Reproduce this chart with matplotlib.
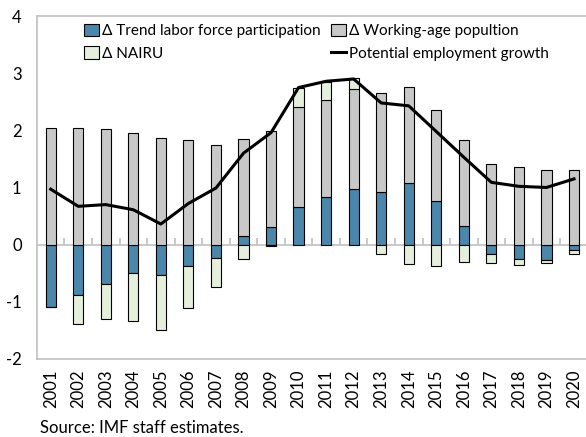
import matplotlib.pyplot as plt
import numpy as np

years = [str(y) for y in range(2001, 2021)]
trend_lfp = [-1.09, -0.88, -0.69, -0.49, -0.54, -0.38, -0.23, 0.15, 0.30, 0.66,
             0.83, 0.97, 0.92, 1.08, 0.76, 0.33, -0.16, -0.25, -0.27, -0.10]
working_age = [2.05, 2.05, 2.02, 1.95, 1.87, 1.83, 1.74, 1.70, 1.69, 1.75,
               1.71, 1.76, 1.73, 1.68, 1.60, 1.50, 1.41, 1.36, 1.31, 1.30]
nairu = [-0.01, -0.51, -0.61, -0.85, -0.96, -0.73, -0.52, -0.25, -0.03, 0.34,
         0.31, 0.18, -0.17, -0.34, -0.38, -0.30, -0.17, -0.10, -0.05, -0.06]
potential = [0.97, 0.67, 0.70, 0.61, 0.36, 0.72, 0.99, 1.60, 1.96, 2.75,
             2.86, 2.90, 2.48, 2.43, 1.98, 1.53, 1.09, 1.02, 1.00, 1.15]

blue = "#4a87ab"
grey = "#c8c8c8"
green = "#e6efdc"
spine = "#c0c0c0"

plt.rcParams['font.family'] = ['Lato', 'DejaVu Sans']

fig = plt.figure(figsize=(5.86, 4.37), dpi=100)
ax = fig.add_axes([0.063, 0.179, 0.94, 0.784])

x = np.arange(len(years))
w = 0.37

# stack positives and negatives separately
pos = np.zeros(len(years))
neg = np.zeros(len(years))
handles = []
for vals, col in [(trend_lfp, blue), (working_age, grey), (nairu, green)]:
    v = np.array(vals)
    base = np.where(v >= 0, pos, neg)
    h = ax.bar(x, v, w, bottom=base, color=col, edgecolor="black", linewidth=0.8, zorder=3)
    handles.append(h)
    pos = pos + np.where(v >= 0, v, 0)
    neg = neg + np.where(v < 0, v, 0)

line, = ax.plot(x, potential, color="black", linewidth=2.2, zorder=4)

ax.axhline(0, color=spine, linewidth=1.2, zorder=1)
ax.vlines(x[:-1] + 0.5, 0, 0.11, color=spine, linewidth=1.2, zorder=1)

ax.set_xlim(-0.5, len(years) - 0.5)
ax.set_ylim(-2, 4)
ax.set_yticks([-2, -1, 0, 1, 2, 3, 4])
ax.set_yticklabels(["-2", "-1", "0", "1", "2", "3", "4"])
ax.set_xticks(x)
ax.set_xticklabels(years, rotation=90)
ax.tick_params(axis="both", length=0, labelsize=12)
ax.tick_params(axis="y", pad=11)
ax.tick_params(axis="x", pad=8)
for s in ax.spines.values():
    s.set_color(spine)
    s.set_linewidth(1.2)
ax.spines["right"].set_visible(False)

leg = ax.legend([handles[0], handles[2], handles[1], line],
                ["Δ Trend labor force participation", "Δ NAIRU",
                 "Δ Working-age popultion", "Potential employment growth"],
                ncol=2, loc="upper left", bbox_to_anchor=(0.072, 1.0), frameon=False,
                fontsize=11, handlelength=1.0, handleheight=0.9, handletextpad=0.15,
                columnspacing=0.7, labelspacing=0.5, borderaxespad=0.1)

fig.text(0.068, 0.01, "Source: IMF staff estimates.", fontsize=12)

fig.savefig("out.png", dpi=100)
